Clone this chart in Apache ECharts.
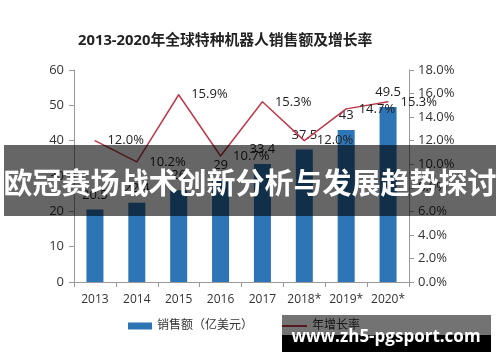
<!DOCTYPE html>
<html><head><meta charset="utf-8">
<script src="https://cdn.jsdelivr.net/npm/echarts@6/dist/echarts.min.js"></script>
<style>html,body{margin:0;padding:0;background:#fff}#c{width:500px;height:362px}</style>
</head><body><div id="c"></div>
<script>
const titleText = '2013-2020年全球特种机器人销售额及增长率';
const categories = ['2013','2014','2015','2016','2017','2018*','2019*','2020*'];
const salesName = '销售额（亿美元）';
const salesValues = [20.5, 22.4, 26.0, 29, 33.4, 37.5, 43, 49.5];
const growthName = '年增长率';
const growthValues = [12.0, 10.2, 15.9, 10.7, 15.3, 12.0, 14.7, 15.3];
const bannerText = '欧冠赛场战术创新分析与发展趋势探讨';
const watermarkText = 'www.zh5-pgsport.com';

const FF = "'Open Sans','Noto Sans CJK SC',sans-serif";
const chart = echarts.init(document.getElementById('c'), null, {renderer:'canvas'});
chart.setOption({
  animation:false,
  textStyle:{fontFamily:FF},
  title:{text:titleText, left:73, top:28, textStyle:{fontSize:14.8, fontWeight:'bold', color:'#222', fontFamily:FF}},
  grid:{left:74, right:91, top:70, bottom:80},
  legend:[
    {data:[salesName], left:123, top:315, itemWidth:24, itemHeight:7, itemGap:4, icon:'rect',
     textStyle:{fontSize:12, color:'#333', fontFamily:FF}},
    {data:[growthName], left:277, top:315, itemWidth:25, itemHeight:2, itemGap:2, icon:'rect',
     textStyle:{fontSize:12, color:'#333', fontFamily:FF}}
  ],
  xAxis:{type:'category', data:categories,
    axisLine:{show:true, lineStyle:{color:'#999'}},
    axisTick:{show:true, length:5, alignWithLabel:false, lineStyle:{color:'#999'}},
    axisLabel:{fontSize:12, color:'#333', margin:12, interval:0, fontFamily:FF}},
  yAxis:[
    {type:'value', min:0, max:60, interval:10,
     axisLine:{show:true, lineStyle:{color:'#999'}},
     axisTick:{show:true, length:5, lineStyle:{color:'#999'}},
     splitLine:{show:false},
     axisLabel:{fontSize:13, color:'#333', margin:10, fontFamily:FF}},
    {type:'value', min:0, max:18, interval:2, position:'right',
     axisLine:{show:true, lineStyle:{color:'#999'}},
     axisTick:{show:true, length:5, lineStyle:{color:'#999'}},
     splitLine:{show:false},
     axisLabel:{fontSize:13, color:'#333', margin:9, fontFamily:FF, formatter:v=>v.toFixed(1)+'%'}}
  ],
  series:[
    {name:salesName, type:'bar', data:salesValues, barWidth:17, yAxisIndex:0,
     itemStyle:{color:'#2e75b6'},
     label:{show:true, position:'top', distance:8, fontSize:13, color:'#222', fontFamily:FF}},
    {name:growthName, type:'line', data:growthValues, yAxisIndex:1, symbol:'circle', symbolSize:1, showSymbol:true,
     lineStyle:{color:'#c0394a', width:1.5}, itemStyle:{color:'#c0394a'},
     label:{show:true, position:'right', distance:12, fontSize:13, color:'#222', fontFamily:FF,
            formatter:p=>p.value.toFixed(1)+'%'}}
  ],
  graphic:[
    {type:'rect', left:4, top:145, shape:{width:492, height:71}, style:{fill:'rgba(0,0,0,0.6)'}, z:100},
    {type:'text', x:250, y:183, z:101, style:{text:bannerText, fill:'#fff', font:"bold 29px 'Noto Sans CJK SC',sans-serif", textAlign:'center', textVerticalAlign:'middle'}},
    {type:'rect', left:282, top:315, shape:{width:209, height:20}, style:{fill:'rgba(0,0,0,0.55)'}, z:100},
    {type:'rect', left:282, top:335, shape:{width:209, height:17}, style:{fill:'#000'}, z:100},
    {type:'text', x:386, y:337, z:101, style:{text:watermarkText, fill:'#fff', font:"bold 17px 'Open Sans',sans-serif", textAlign:'center', textVerticalAlign:'middle'}}
  ]
});
</script></body></html>
